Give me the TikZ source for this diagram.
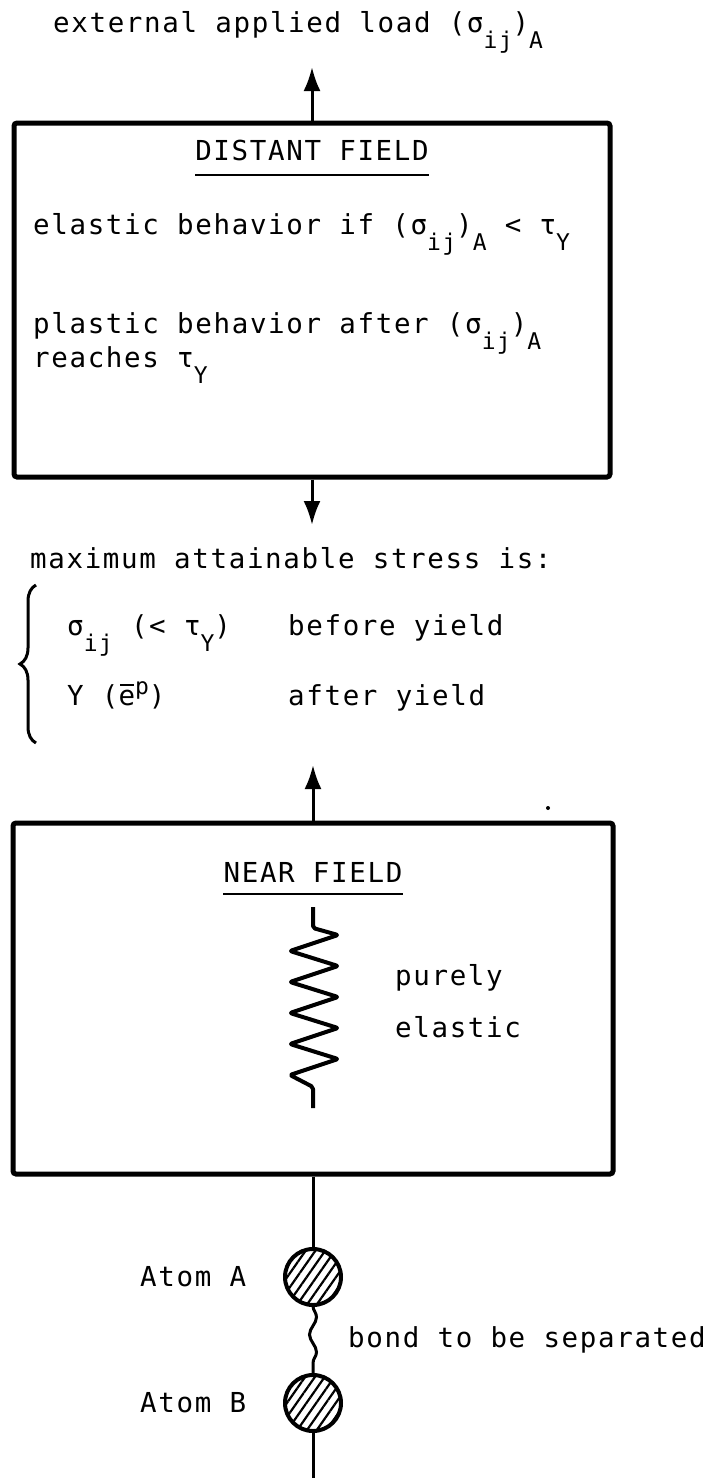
\documentclass[tikz,border=0pt]{standalone}
\usepackage{fontspec}
\usetikzlibrary{arrows.meta,patterns.meta,decorations.pathreplacing,decorations.pathmorphing}
\newfontfamily\tw[LetterSpace=6]{DejaVu Sans Mono}
\newcommand{\dn}[1]{\raisebox{-16pt}{\fontsize{23}{23}\selectfont #1}}
\newcommand{\upp}[1]{\raisebox{11pt}{\fontsize{23}{23}\selectfont #1}}
\newcommand{\ebar}{\makebox[0pt][l]{\hspace{1.5pt}\rule[19pt]{14pt}{1.8pt}}e}
\tikzset{
  txt/.style={font=\tw\fontsize{27.5}{33}\selectfont, inner sep=0pt, anchor=base west},
  box/.style={draw, line width=5pt, rounded corners=3pt, inner sep=0pt},
  arr/.style={line width=3pt, -{Latex[length=24pt,width=17pt]}},
  wire/.style={line width=3pt},
  atom/.style={circle, draw, line width=4pt, minimum size=56pt, inner sep=0pt,
    pattern={Lines[angle=55,distance=8pt,line width=2.2pt]}},
}
\begin{document}
\begin{tikzpicture}[x=1pt,y=-1pt]
\useasboundingbox (0,0) rectangle (721,1478);
% texts
\node[txt] (load) at (53,32) {external applied load (σ\dn{ij})\dn{A}};
\node[box, minimum width=596pt, minimum height=354pt] (df) at (312,300) {};
\node[txt, anchor=base] (dft) at (312,160) {DISTANT FIELD};
\draw[line width=2.5pt] ([yshift=-15pt]dft.base west) -- ([yshift=-15pt]dft.base east);
\node[txt] (el) at (33,234) {elastic behavior if (σ\dn{ij})\dn{A} < τ\dn{Y}};
\node[txt] (pl) at (33,333) {plastic behavior after (σ\dn{ij})\dn{A}};
\node[txt] (re) at (33,367) {reaches τ\dn{Y}};
\node[txt] (max) at (30,568) {maximum attainable stress is:};
\node[txt] (s1) at (67,635) {σ\dn{ij} (< τ\dn{Y})};
\node[txt] (b1) at (288,635) {before yield};
\node[txt] (s2) at (67,705) {Y (\ebar\upp{p})};
\node[txt] (a2) at (288,705) {after yield};
\coordinate (brb) at (36,743);
\coordinate (brt) at (36,585);
\draw[line width=3pt, decorate, decoration={brace, amplitude=16pt}] (brb) -- (brt);
\node[box, minimum width=600pt, minimum height=351pt] (nf) at (313,998.5) {};
\node[txt, anchor=base] (nft) at (313,882) {NEAR FIELD};
\draw[line width=2.5pt] ([yshift=-12pt]nft.base west) -- ([yshift=-12pt]nft.base east);
\node[txt] (pu) at (395,985) {purely};
\node[txt] (ela) at (395,1037) {elastic};
% spring
\draw[line width=4pt, line join=round, rounded corners=2pt]
  (313,907) -- (313,928) -- (338,935) -- (290,951) -- (338,966) -- (290,982) -- (338,997)
  -- (290,1013) -- (338,1028) -- (290,1044) -- (338,1059) -- (290,1075) -- (313,1087) -- (313,1108);
% atoms
\node[atom] (atA) at (313,1277) {};
\node[atom] (atB) at (313,1403) {};
\node[txt] (lA) at (140,1286) {Atom A};
\node[txt] (lB) at (140,1412) {Atom B};
\node[txt] (bond) at (348,1347) {bond to be separated};
% connectors
\coordinate (tipTop) at (312,67);
\coordinate (tipMid) at (312,525);
\coordinate (tipLow) at (313,765);
\coordinate (bot) at (313,1478);
\draw[arr] (df.north) -- (tipTop);
\draw[arr] (df.south) -- (tipMid);
\draw[arr] (nf.north) -- (tipLow);
\draw[wire] (nf.south) -- (atA.north);
\draw[line width=3pt, decorate, decoration={snake, amplitude=3.5pt, segment length=35pt}] (atA.south) -- (atB.north);
\draw[wire] (atB.south) -- (bot);
\fill (548,808) circle (2pt);
\end{tikzpicture}
\end{document}
